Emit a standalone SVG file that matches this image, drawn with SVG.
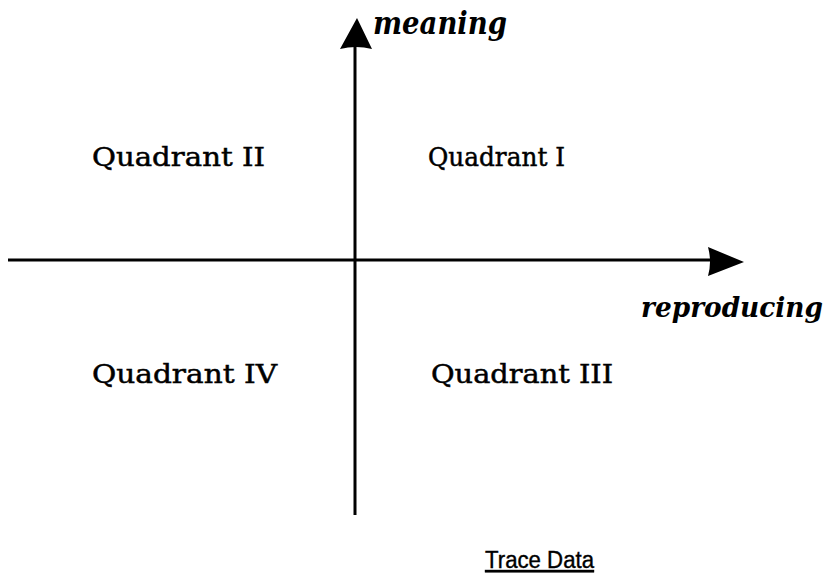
<svg xmlns="http://www.w3.org/2000/svg" width="840" height="580" viewBox="0 0 840 580">
<style>
.q{font-family:"DejaVu Serif","Liberation Serif",serif;font-size:26px;fill:#000;stroke:#000;stroke-width:0.5}
.ax{font-family:"DejaVu Serif","Liberation Serif",serif;font-style:italic;font-weight:bold;fill:#000}
.axis{stroke:#000;stroke-width:3;fill:none}
.cap{font-family:"Liberation Sans",Arial,sans-serif;font-size:23px;fill:#000;stroke:#000;stroke-width:0.4;text-decoration:underline}
</style>
<rect width="840" height="580" fill="#fff"/>
<g id="connectors">
<line class="axis" x1="355" y1="515" x2="355" y2="46"/>
<path d="M357 18 L340 49 Q356 45 372 49 Z" fill="#000"/>
<line class="axis" x1="8" y1="260" x2="712" y2="260"/>
<path d="M744 262 L708 247 Q712 262 708 276 Z" fill="#000"/>
</g>
<g id="axis-meaning"><text class="ax" x="373" y="34" font-size="31" textLength="134" lengthAdjust="spacingAndGlyphs">meaning</text></g>
<g id="axis-reproducing"><text class="ax" x="641" y="317" font-size="28" textLength="182" lengthAdjust="spacingAndGlyphs">reproducing</text></g>
<g id="q2"><text class="q" x="92" y="166" textLength="173" lengthAdjust="spacingAndGlyphs">Quadrant II</text></g>
<g id="q1"><text class="q" x="428" y="166" textLength="137" lengthAdjust="spacingAndGlyphs">Quadrant I</text></g>
<g id="q4"><text class="q" x="92" y="383" textLength="185" lengthAdjust="spacingAndGlyphs">Quadrant IV</text></g>
<g id="q3"><text class="q" x="431" y="383" textLength="182" lengthAdjust="spacingAndGlyphs">Quadrant III</text></g>
<g id="caption"><text class="cap" x="485" y="568" textLength="109" lengthAdjust="spacingAndGlyphs">Trace Data</text></g>
</svg>
